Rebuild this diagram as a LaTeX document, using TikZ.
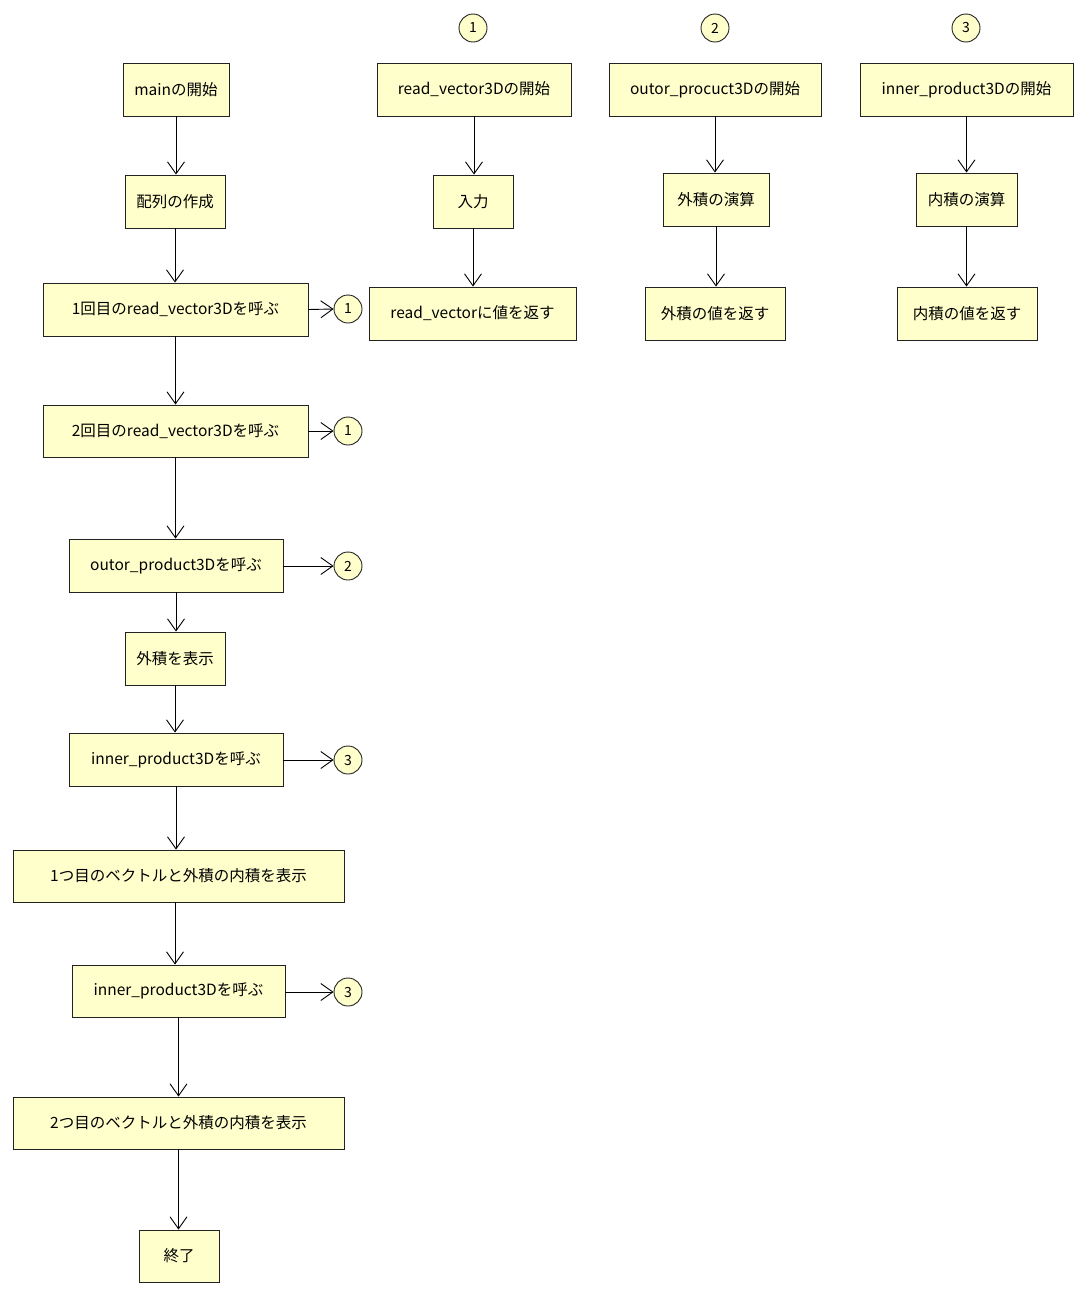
\documentclass[tikz,border=0pt]{standalone}
\usepackage{fontspec}
\setmainfont{Noto Sans CJK JP}
\usetikzlibrary{arrows.meta}
\definecolor{boxfill}{HTML}{FFFFCC}
\definecolor{boxline}{HTML}{222222}
\tikzset{
  box/.style={draw=boxline, fill=boxfill, line width=0.9pt, rectangle, inner sep=0pt, anchor=center, font=\fontsize{15.5}{17}\selectfont},
  conn/.style={draw=boxline, fill=boxfill, line width=0.9pt, circle, inner sep=0pt, minimum size=28pt, anchor=center, font=\fontsize{14}{16}\selectfont},
  flow/.style={line width=0.9pt, -{Straight Barb[length=12pt,width=17pt,line width=0.9pt]}}
}
\newcommand{\bx}[6]{% name, x1, y1, x2, y2, text
  \node[box, minimum width={#4-#2}, minimum height={#5-#3}] (#1) at ({(#2+#4)/2},{(#3+#5)/2}) {#6};}
\begin{document}
\begin{tikzpicture}[x=1pt,y=-1pt]
\useasboundingbox (0,0) rectangle (1086,1296);
% left column
\bx{main}{123}{63}{229}{116}{mainの開始}
\bx{arr}{125}{175}{225}{228}{配列の作成}
\bx{rv1}{43}{283}{308}{336}{1回目のread\_vector3Dを呼ぶ}
\bx{rv2}{43}{405}{308}{457}{2回目のread\_vector3Dを呼ぶ}
\bx{op}{69}{539}{283}{592}{outor\_product3Dを呼ぶ}
\bx{disp}{125}{632}{225}{685}{外積を表示}
\bx{ip1}{69}{733}{283}{786}{inner\_product3Dを呼ぶ}
\bx{d1}{13}{850}{344}{902}{1つ目のベクトルと外積の内積を表示}
\bx{ip2}{72}{965}{285}{1017}{inner\_product3Dを呼ぶ}
\bx{d2}{13}{1097}{344}{1149}{2つ目のベクトルと外積の内積を表示}
\bx{fin}{139}{1230}{219}{1282}{終了}
% connectors on left
\node[conn] (c1a) at (348,309) {1};
\node[conn] (c1b) at (348,431) {1};
\node[conn] (c2a) at (348,566) {2};
\node[conn] (c3a) at (348,760) {3};
\node[conn] (c3b) at (348,992) {3};
% right columns
\node[conn] (t1) at (473,28) {1};
\node[conn] (t2) at (715,28) {2};
\node[conn] (t3) at (966,28) {3};
\bx{rvs}{377}{63}{571}{116}{read\_vector3Dの開始}
\bx{inp}{433}{175}{513}{228}{入力}
\bx{rvr}{369}{287}{576}{340}{read\_vectorに値を返す}
\bx{ops}{609}{63}{821}{116}{outor\_procuct3Dの開始}
\bx{opc}{663}{173}{769}{226}{外積の演算}
\bx{opr}{645}{287}{785}{340}{外積の値を返す}
\bx{ips}{860}{63}{1073}{116}{inner\_product3Dの開始}
\bx{ipc}{916}{173}{1017}{226}{内積の演算}
\bx{ipr}{897}{287}{1037}{340}{内積の値を返す}
% flows
\draw[flow] (main.south) -- (main.south |- arr.north);
\draw[flow] (arr.south) -- (arr.south |- rv1.north);
\draw[flow] (rv1.south) -- (rv1.south |- rv2.north);
\draw[flow] (rv2.south) -- (rv2.south |- op.north);
\draw[flow] (op.south) -- (op.south |- disp.north);
\draw[flow] (disp.south) -- (disp.south |- ip1.north);
\draw[flow] (ip1.south) -- (ip1.south |- d1.north);
\draw[flow] ([xshift=-3.5pt]d1.south) -- ([xshift=-3.5pt]d1.south |- ip2.north);
\draw[flow] (ip2.south) -- (ip2.south |- d2.north);
\draw[flow] (d2.south) -- (d2.south |- fin.north);
\draw[flow] (rv1.east) -- (c1a.west);
\draw[flow] (rv2.east) -- (c1b.west);
\draw[flow] (op.east |- c2a.west) -- (c2a.west);
\draw[flow] (ip1.east |- c3a.west) -- (c3a.west);
\draw[flow] (ip2.east |- c3b.west) -- (c3b.west);
\draw[flow] (rvs.south) -- (rvs.south |- inp.north);
\draw[flow] (inp.south) -- (inp.south |- rvr.north);
\draw[flow] (ops.south) -- (ops.south |- opc.north);
\draw[flow] (opc.south) -- (opc.south |- opr.north);
\draw[flow] (ips.south) -- (ips.south |- ipc.north);
\draw[flow] (ipc.south) -- (ipc.south |- ipr.north);
\end{tikzpicture}
\end{document}
